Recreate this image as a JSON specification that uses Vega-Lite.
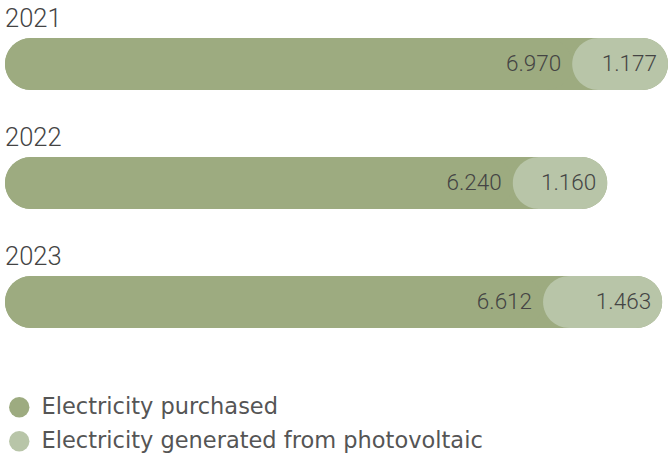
{
  "$schema": "https://vega.github.io/schema/vega-lite/v6.json",
  "width": 670,
  "height": 457,
  "autosize": "none",
  "padding": 0,
  "background": "#ffffff",
  "config": {
    "view": {"stroke": null},
    "font": "Roboto"
  },
  "data": {
    "values": [
      {"year": "2021", "source": "Electricity purchased", "value": 6.970},
      {"year": "2021", "source": "Electricity generated from photovoltaic", "value": 1.177},
      {"year": "2022", "source": "Electricity purchased", "value": 6.240},
      {"year": "2022", "source": "Electricity generated from photovoltaic", "value": 1.160},
      {"year": "2023", "source": "Electricity purchased", "value": 6.612},
      {"year": "2023", "source": "Electricity generated from photovoltaic", "value": 1.463}
    ]
  },
  "transform": [
    {
      "stack": "value",
      "groupby": ["year"],
      "sort": [{"field": "source", "order": "descending"}],
      "as": ["v0", "v1"]
    }
  ],
  "encoding": {
    "y": {
      "field": "year",
      "type": "nominal",
      "axis": null,
      "scale": {"range": [38, 328], "paddingInner": 0.563, "paddingOuter": 0}
    }
  },
  "layer": [
    {
      "mark": {"type": "bar", "cornerRadius": 26, "fill": "#9dab80"},
      "encoding": {
        "x": {
          "aggregate": "sum",
          "field": "value",
          "type": "quantitative",
          "axis": null,
          "scale": {"range": [5, 668], "nice": false, "zero": true}
        }
      }
    },
    {
      "mark": {"type": "bar", "cornerRadius": 26},
      "encoding": {
        "x": {"field": "v0", "type": "quantitative"},
        "x2": {"field": "v1"},
        "color": {
          "field": "source",
          "type": "nominal",
          "scale": {
            "domain": ["Electricity purchased", "Electricity generated from photovoltaic"],
            "range": ["#9dab80", "#b8c5a8"]
          },
          "legend": {
            "title": null,
            "orient": "none",
            "legendX": 8,
            "legendY": 396,
            "padding": 0,
            "symbolType": "circle",
            "symbolSize": 415,
            "symbolStrokeWidth": 0,
            "labelFont": "DejaVu Sans",
            "labelFontSize": 22.5,
            "labelColor": "#555555",
            "labelOffset": 11,
            "rowPadding": 11,
            "labelLimit": 620
          }
        }
      }
    },
    {
      "mark": {
        "type": "text",
        "align": "right",
        "baseline": "middle",
        "dx": -11,
        "font": "Roboto",
        "fontSize": 22.5,
        "fontWeight": 300,
        "color": "#444444"
      },
      "encoding": {
        "x": {"field": "v1", "type": "quantitative"},
        "text": {"field": "value", "type": "quantitative", "format": ".3f"}
      }
    },
    {
      "transform": [{"filter": "datum.source === 'Electricity purchased'"}],
      "mark": {
        "type": "text",
        "align": "left",
        "baseline": "alphabetic",
        "dy": -37,
        "dx": 0,
        "font": "Roboto",
        "fontSize": 25.5,
        "fontWeight": 300,
        "color": "#444444"
      },
      "encoding": {
        "x": {"datum": 0, "type": "quantitative"},
        "text": {"field": "year", "type": "nominal"}
      }
    }
  ]
}
